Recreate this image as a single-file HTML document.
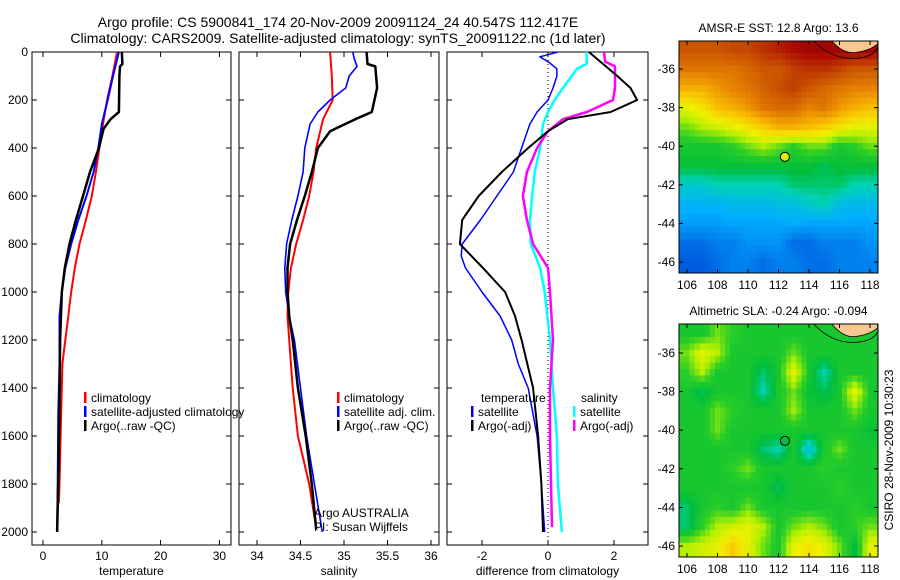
<!DOCTYPE html>
<html><head><meta charset="utf-8"><style>
html,body{margin:0;padding:0;background:#fff;width:900px;height:580px;overflow:hidden}
svg{display:block;font-family:"Liberation Sans",sans-serif}
</style></head><body>
<svg id="c" width="900" height="580" viewBox="0 0 900 580">
<text x="338" y="27" font-size="14" text-anchor="middle">Argo profile: CS 5900841_174 20-Nov-2009 20091124_24 40.547S 112.417E</text>
<text x="338" y="43" font-size="14" text-anchor="middle">Climatology: CARS2009. Satellite-adjusted climatology: synTS_20091122.nc (1d later)</text>
<text transform="translate(893,450) rotate(-90)" font-size="12" text-anchor="middle">CSIRO 28-Nov-2009 10:30:23</text>
</svg>
<script>
// ---- data ----
const tempClimDepth=[0,100,200,300,400,500,600,700,800,900,1000,1100,1200,1300,1400,1600,1800,1880];
const tempClim=[12.6,11.8,10.9,10.2,9.6,9.0,8.3,7.3,6.2,5.4,4.8,4.3,3.8,3.3,3.2,3.0,2.8,2.7];
const tempSatDepth=[0,100,200,300,400,500,600,700,800,900,1000,1100,1300,1500,1800,2000];
const tempSat=[12.9,11.9,11.0,10.0,9.4,8.6,7.4,6.0,4.8,3.8,3.2,2.8,2.8,2.6,2.5,2.4];
const tempArgoDepth=[0,50,60,100,250,280,320,400,500,600,700,800,900,1000,1200,1500,1800,2000];
const tempArgo=[13.4,13.5,13.1,13.0,12.9,11.5,10.3,9.5,8.0,6.8,5.6,4.5,3.7,3.2,2.9,2.8,2.6,2.4];
const salClimDepth=[0,100,200,280,400,500,600,700,800,900,1000,1100,1200,1400,1600,1800,1960];
const salClim=[34.84,34.86,34.87,34.76,34.68,34.65,34.60,34.53,34.45,34.39,34.36,34.35,34.37,34.41,34.47,34.60,34.67];
const salSatDepth=[0,30,60,100,150,200,250,300,400,500,600,700,800,900,1000,1100,1200,1400,1600,1800,2000];
const salSat=[35.1,35.12,35.15,35.06,35.02,34.84,34.70,34.61,34.55,34.53,34.47,34.40,34.34,34.32,34.33,34.37,34.43,34.50,34.57,34.66,34.75];
const salArgoDepth=[0,50,60,150,250,280,330,400,500,600,700,800,900,1000,1100,1200,1400,1600,1800,1990];
const salArgo=[35.26,35.27,35.36,35.38,35.32,35.13,34.84,34.70,34.63,34.55,34.46,34.38,34.35,34.35,34.37,34.41,34.47,34.56,34.63,34.68];
const dTempArgoDepth=[0,50,100,150,200,250,280,330,400,500,600,700,800,900,1000,1100,1200,1400,1600,1800,2000];
const dTempArgo=[1.24,1.67,2.1,2.5,2.7,1.9,0.6,0,-0.6,-1.4,-2.1,-2.6,-2.67,-1.97,-1.3,-1.0,-0.8,-0.45,-0.3,-0.2,-0.15];
const dTempSatDepth=[0,20,40,70,100,150,200,250,300,400,500,600,700,800,850,900,1000,1100,1200,1300,1400,1600,1800,2000];
const dTempSat=[0.3,-0.25,0,0.27,0.27,0.15,0,-0.33,-0.55,-0.8,-1.05,-1.55,-2.05,-2.6,-2.63,-2.5,-2.0,-1.45,-1.1,-0.9,-0.6,-0.33,-0.2,-0.1];
const dSalSatDepth=[0,50,70,150,200,250,300,400,500,600,700,800,900,1000,1200,1400,1600,1800,2000];
const dSalSat=[1.17,1.17,0.88,0.45,0.2,0,-0.15,-0.24,-0.4,-0.48,-0.55,-0.52,-0.24,-0.1,0.06,0.15,0.27,0.3,0.42];
const dSalArgoDepth=[0,40,60,150,200,250,280,330,400,500,600,700,800,900,1000,1200,1400,1600,1800,1980];
const dSalArgo=[1.7,1.73,2.03,2.03,1.97,1.18,0.45,0,-0.33,-0.64,-0.76,-0.64,-0.45,0,0.06,0.15,0.06,0.06,0.09,0.12];
const depthTicks=[0,200,400,600,800,1000,1200,1400,1600,1800,2000];
const tempTicks=[0,10,20,30];
const salTicks=[34,34.5,35,35.5,36];
const diffTicks=[-2,0,2];
const lonTicks=[106,108,110,112,114,116,118];
const latTicks=[-36,-38,-40,-42,-44,-46];
const sstGrid=[
[.85,.85,.85,.87,.87,.9,.92,.95,.97,.97,.97,.97,.97],
[.8,.8,.8,.8,.82,.85,.85,.88,.9,.9,.88,.85,.85],
[.72,.72,.75,.78,.8,.83,.86,.88,.85,.82,.8,.78,.78],
[.62,.65,.7,.72,.75,.8,.82,.82,.78,.8,.75,.72,.7],
[.55,.58,.6,.62,.65,.68,.72,.72,.7,.68,.65,.62,.62],
[.5,.5,.5,.52,.55,.58,.55,.52,.55,.55,.5,.52,.55],
[.48,.48,.48,.48,.48,.48,.48,.48,.48,.46,.48,.48,.48],
[.4,.4,.42,.42,.42,.42,.42,.45,.45,.45,.45,.42,.42],
[.36,.36,.36,.37,.37,.37,.38,.38,.4,.42,.38,.37,.37],
[.33,.33,.33,.34,.34,.34,.34,.35,.34,.34,.34,.34,.34],
[.28,.28,.3,.3,.32,.32,.32,.28,.28,.3,.3,.3,.32],
[.26,.26,.28,.3,.3,.28,.3,.3,.28,.28,.3,.3,.3]];
const slaGrid=[
[.5,.5,.55,.52,.5,.5,.5,.5,.5,.5,.5,.5,.5],
[.55,.62,.58,.5,.5,.5,.5,.55,.5,.5,.5,.5,.5],
[.52,.58,.5,.5,.5,.45,.5,.62,.5,.42,.5,.5,.5],
[.5,.46,.5,.5,.5,.42,.5,.55,.48,.46,.5,.62,.5],
[.5,.5,.55,.52,.5,.5,.5,.57,.5,.5,.5,.55,.5],
[.5,.5,.55,.5,.5,.5,.5,.5,.5,.5,.5,.5,.48],
[.5,.5,.5,.5,.5,.45,.42,.5,.38,.5,.55,.5,.5],
[.5,.5,.5,.52,.55,.5,.5,.5,.5,.52,.5,.5,.5],
[.5,.5,.5,.5,.5,.5,.46,.5,.5,.5,.52,.5,.5],
[.45,.5,.52,.5,.55,.5,.5,.5,.5,.5,.5,.52,.5],
[.45,.52,.58,.6,.62,.58,.5,.55,.58,.55,.5,.52,.55],
[.58,.6,.62,.68,.62,.55,.5,.62,.65,.62,.55,.47,.62]];
const gridLon0=105.5, gridLat0=-34.5;
const argoLon=112.42, argoLat=-40.55;

// ---- helpers ----
const NS="http://www.w3.org/2000/svg", svg=document.getElementById('c');
function mk(tag,attrs,parent){const e=document.createElementNS(NS,tag);for(const k in attrs)e.setAttribute(k,attrs[k]);(parent||svg).appendChild(e);return e;}
const yD=d=>52+d*0.24;
const xT=v=>43+v*5.88;
const xS=v=>257+(v-34)*87;
const xDf=v=>548+v*33;
const PT=52,PB=545;
const panels=[{x0:32,x1:231,ticks:tempTicks,f:xT,name:'temperature'},{x0:239,x1:439,ticks:salTicks,f:xS,name:'salinity'},{x0:447,x1:648,ticks:diffTicks,f:xDf,name:'difference from climatology'}];
panels.forEach((p,i)=>{
  const g=mk('g',{});
  
  
  const r=mk('rect',{x:p.x0,y:PT,width:p.x1-p.x0,height:PB-PT,fill:'none',stroke:'#000','stroke-width':1},g);
  
  
  p.ticks.forEach(t=>{const x=p.f(t);
    mk('line',{x1:x,x2:x,y1:PB,y2:PB-5,stroke:'#000'},g);mk('line',{x1:x,x2:x,y1:PT,y2:PT+5,stroke:'#000'},g);
    const tx=mk('text',{x:x,y:PB+15,'font-size':12,'text-anchor':'middle'},g);tx.textContent=t;
    
    });
  depthTicks.forEach(d=>{const y=yD(d);
    mk('line',{x1:p.x0,x2:p.x0+5,y1:y,y2:y,stroke:'#000'},g);mk('line',{x1:p.x1,x2:p.x1-5,y1:y,y2:y,stroke:'#000'},g);
    if(i==0){const tx=mk('text',{x:28,y:y+4,'font-size':12,'text-anchor':'end'},g);tx.textContent=d;
      
      }});
  const at=mk('text',{x:(p.x0+p.x1)/2,y:575,'font-size':12,'text-anchor':'middle'},g);at.textContent=p.name;
  
  
});
function line(depths,vals,f,color,w,name){
  const pts=depths.map((d,i)=>f(vals[i]).toFixed(1)+','+yD(d).toFixed(1)).join(' ');
  const e=mk('polyline',{points:pts,fill:'none',stroke:color,'stroke-width':w,'stroke-linejoin':'round'});
  
  
}
const zl=mk('line',{x1:xDf(0),x2:xDf(0),y1:PT,y2:PB,stroke:'#000','stroke-dasharray':'1,3'});


line(tempClimDepth,tempClim,xT,'#f00',2,'temp-climatology-line');
line(tempSatDepth,tempSat,xT,'#00f',2,'temp-satellite-line');
line(tempArgoDepth,tempArgo,xT,'#000',2.5,'temp-argo-line');
line(salClimDepth,salClim,xS,'#f00',2,'sal-climatology-line');
line(salSatDepth,salSat,xS,'#00f',1.6,'sal-satellite-line');
line(salArgoDepth,salArgo,xS,'#000',2.5,'sal-argo-line');
line(dSalSatDepth,dSalSat,xDf,'#0ff',2.5,'diff-sal-satellite-line');
line(dSalArgoDepth,dSalArgo,xDf,'#f0f',2.5,'diff-sal-argo-line');
line(dTempSatDepth,dTempSat,xDf,'#00f',1.5,'diff-temp-satellite-line');
line(dTempArgoDepth,dTempArgo,xDf,'#000',2,'diff-temp-argo-line');
function leg(x,y,color,label){
  const g=mk('g',{});
  
  
  if(color)mk('rect',{x:x,y:y-10,width:2.5,height:11,fill:color},g);
  const t=mk('text',{x:x+7,y:y,'font-size':12},g);t.textContent=label;
}
leg(84,402,'#f00','climatology');leg(84,416,'#00f','satellite-adjusted climatology');leg(84,430,'#000','Argo(..raw -QC)');
leg(337,402,'#f00','climatology');leg(337,416,'#00f','satellite adj. clim.');leg(337,430,'#000','Argo(..raw -QC)');
leg(474,402,null,'temperature');leg(574,402,null,'salinity');
leg(471,416,'#00f','satellite');leg(573,416,'#0ff','satellite');
leg(471,430,'#000','Argo(-adj)');leg(573,430,'#f0f','Argo(-adj)');
const c1=mk('text',{x:314,y:517,'font-size':12});c1.textContent='Argo AUSTRALIA';


const c2=mk('text',{x:314,y:531,'font-size':12});c2.textContent='PI: Susan Wijffels';



// ---- maps ----
const stops=[[0.2,0,40,200],[0.28,0,110,230],[0.35,0,175,255],[0.42,0,210,180],[0.47,0,190,60],[0.52,40,205,40],[0.58,180,240,0],[0.63,240,240,0],[0.7,250,190,0],[0.78,230,130,0],[0.86,200,80,0],[0.95,170,10,0],[1,150,0,0]];
function col(t){for(let i=1;i<stops.length;i++){if(t<=stops[i][0]){const a=stops[i-1],b=stops[i],f=(t-a[0])/(b[0]-a[0]);return 'rgb('+[1,2,3].map(k=>Math.round(a[k]+(b[k]-a[k])*f)).join(',')+')';}}return 'rgb(150,0,0)';}
function sample(grid,r,c){
  const R=grid.length-1,C=grid[0].length-1;
  r=Math.max(0,Math.min(R,r));c=Math.max(0,Math.min(C,c));
  const r0=Math.floor(r),c0=Math.floor(c),r1=Math.min(R,r0+1),c1=Math.min(C,c0+1),fr=r-r0,fc=c-c0;
  return grid[r0][c0]*(1-fr)*(1-fc)+grid[r0][c1]*(1-fr)*fc+grid[r1][c0]*fr*(1-fc)+grid[r1][c1]*fr*fc;
}
function map(top,bot,lat36y,grid,title,name){
  const L=679,R=878,lonX=v=>687+(v-106)*15.25,latY=v=>lat36y+(-36-v)*19.3;
  const g=mk('g',{});
  
  
  const cp=mk('clipPath',{id:'cp'+name},g);mk('rect',{x:L,y:top,width:R-L,height:bot-top},cp);
  const cg=mk('g',{'clip-path':'url(#cp'+name+')'},g);
  const S=3,step=1/S;
  for(let r=-0.5;r<grid.length;r+=step){for(let c=-0.5;c<grid[0].length;c+=step){
    const v=sample(grid,r+step/2-0.5+0.5,c+step/2-0.5+0.5);
    const x=lonX(gridLon0+0.5+c),y=latY(gridLat0-0.5-r);
    const e=mk('rect',{x:x.toFixed(1),y:y.toFixed(1),width:(15.25*step+0.6).toFixed(1),height:(19.3*step+0.6).toFixed(1),fill:col(v)},cg);
    
    
  }}
  const land=mk('path',{d:`M${lonX(115.5)},${top} Q${lonX(116.2)},${latY(-35.2)} ${lonX(117)},${latY(-35.15)} Q${lonX(118)},${latY(-35.05)} ${lonX(118.5)},${latY(-34.7)} L${lonX(118.5)},${top} Z`,fill:'#f8c890',stroke:'#000','stroke-width':0.8},cg);
  
  
  mk('path',{d:`M${lonX(114.3)},${top} Q${lonX(115.5)},${latY(-35.5)} ${lonX(117)},${latY(-35.45)} Q${lonX(118.2)},${latY(-35.4)} ${lonX(118.5)},${latY(-34.9)}`,fill:'none',stroke:'#000','stroke-width':0.8},cg);
  mk('rect',{x:L,y:top,width:R-L,height:bot-top,fill:'none',stroke:'#000'},g);
  lonTicks.forEach(v=>{const x=lonX(v);mk('line',{x1:x,x2:x,y1:bot,y2:bot-4,stroke:'#000'},g);mk('line',{x1:x,x2:x,y1:top,y2:top+4,stroke:'#000'},g);
    const t=mk('text',{x:x,y:bot+16,'font-size':12,'text-anchor':'middle'},g);t.textContent=v;
    
    });
  latTicks.forEach(v=>{const y=latY(v);mk('line',{x1:L,x2:L+4,y1:y,y2:y,stroke:'#000'},g);mk('line',{x1:R,x2:R-4,y1:y,y2:y,stroke:'#000'},g);
    const t=mk('text',{x:L-4,y:y+4,'font-size':12,'text-anchor':'end'},g);t.textContent=v;
    
    });
  const pt=mk('circle',{cx:lonX(argoLon),cy:latY(argoLat),r:4.5,fill:name=='sst-map'?'#e0f000':'none',stroke:'#000'},g);
  
  
  const tt=mk('text',{x:(L+R)/2,y:top-9,'font-size':12,'text-anchor':'middle'},g);tt.textContent=title;
  
  
}
map(41,273,69,sstGrid,'AMSR-E SST: 12.8 Argo: 13.6','sst-map');
map(324,557,353,slaGrid,'Altimetric SLA: -0.24  Argo: -0.094','sla-map');
</script>
</body></html>
